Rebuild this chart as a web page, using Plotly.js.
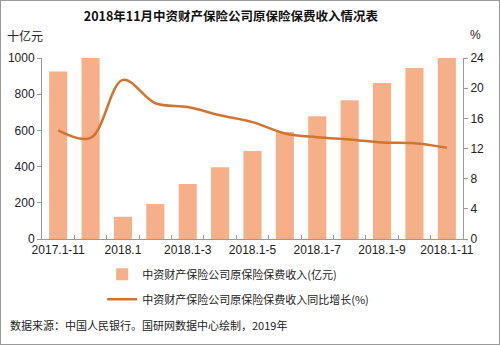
<!DOCTYPE html>
<html><head><meta charset="utf-8">
<script src="https://cdn.plot.ly/plotly-3.0.1.min.js"></script>
<style>
html,body{margin:0;padding:0;background:#fff;}
#frame{position:absolute;left:0;top:0;width:498px;height:343px;border:1px solid #9a9a9a;}
#chart{position:absolute;left:0;top:0;width:500px;height:345px;}
</style>
</head><body>
<div id="chart"></div>
<div id="frame"></div>
<script>
const categories = ["2017.1-11","2017.1-12","2018.1","2018.1-2","2018.1-3","2018.1-4","2018.1-5","2018.1-6","2018.1-7","2018.1-8","2018.1-9","2018.1-10","2018.1-11"];
const tickLabels = ["2017.1-11","","2018.1","","2018.1-3","","2018.1-5","","2018.1-7","","2018.1-9","","2018.1-11"];
const premium = [925, 1000, 123, 193, 304, 396, 486, 591, 678, 766, 862, 945, 1000];
const growth = [14.4, 13.4, 21.1, 18.0, 17.5, 16.4, 15.5, 14.0, 13.5, 13.2, 12.8, 12.7, 12.1];
const seriesNames = ["中资财产保险公司原保险保费收入(亿元)", "中资财产保险公司原保险保费收入同比增长(%)"];

const FONT = "Liberation Sans, Arial, Noto Sans CJK SC, sans-serif";
const CJK = "Noto Sans CJK SC, Liberation Sans, sans-serif";

const traces = [
  {type:"bar", x:categories, y:premium, name:seriesNames[0], marker:{color:"#f5b08a"}, legendgroup:"a", yaxis:"y"},
  {type:"scatter", mode:"lines", x:categories, y:growth, name:seriesNames[1], line:{color:"#cf7531", width:2.5, shape:"spline", smoothing:1}, legendgroup:"b", yaxis:"y2"}
];

const layout = {
  width:500, height:345,
  margin:{l:42, r:37, t:58, b:106},
  paper_bgcolor:"#fff", plot_bgcolor:"#fff",
  font:{family:FONT, size:12, color:"#222"},
  title:{text:"<b>2018年11月中资财产保险公司原保险保费收入情况表</b>", font:{family:CJK, size:12.5, color:"#111"}, x:0.462, xanchor:"center", xref:"container", y:1-17/345, yref:"container", yanchor:"middle"},
  bargap:0.44,
  showlegend:true,
  legend:{x:0.143, y:-0.115, xanchor:"left", yanchor:"top", orientation:"v", font:{family:CJK, size:11, color:"#222"}, traceorder:"grouped", tracegroupgap:6, bgcolor:"rgba(0,0,0,0)"},
  xaxis:{type:"category", tickmode:"array", tickvals:categories, ticktext:tickLabels, tickson:"boundaries", ticks:"inside", ticklen:4, tickcolor:"#999", showline:true, linecolor:"#999", linewidth:1, showgrid:false, tickangle:0, tickfont:{size:12, color:"#222"}, fixedrange:true},
  yaxis:{range:[0,1000], dtick:200, tickmode:"linear", showline:true, linecolor:"#999", ticks:"outside", ticklen:4, tickcolor:"#999", showgrid:false, zeroline:false, tickfont:{size:12, color:"#222"}},
  yaxis2:{range:[0,24], dtick:4, tickmode:"linear", overlaying:"y", side:"right", showline:true, linecolor:"#999", ticks:"outside", ticklen:4, tickcolor:"#999", showgrid:false, zeroline:false, tickfont:{size:12, color:"#222"}},
  annotations:[
    {text:"十亿元", xref:"paper", yref:"paper", x:-42/421+5/421, y:(239-35)/181, xanchor:"left", yanchor:"middle", showarrow:false, font:{family:CJK, size:12, color:"#222"}},
    {text:"%", xref:"paper", yref:"paper", x:(475-42)/421, y:(239-35)/181, xanchor:"center", yanchor:"middle", showarrow:false, font:{family:FONT, size:12, color:"#222"}},
    {text:"数据来源：中国人民银行。国研网数据中心绘制，2019年", xref:"paper", yref:"paper", x:-34/421, y:(239-325)/181, xanchor:"left", yanchor:"middle", showarrow:false, font:{family:CJK, size:11, color:"#222"}}
  ]
};
Plotly.newPlot("chart", traces, layout, {displayModeBar:false, staticPlot:true});
</script>
</body></html>
